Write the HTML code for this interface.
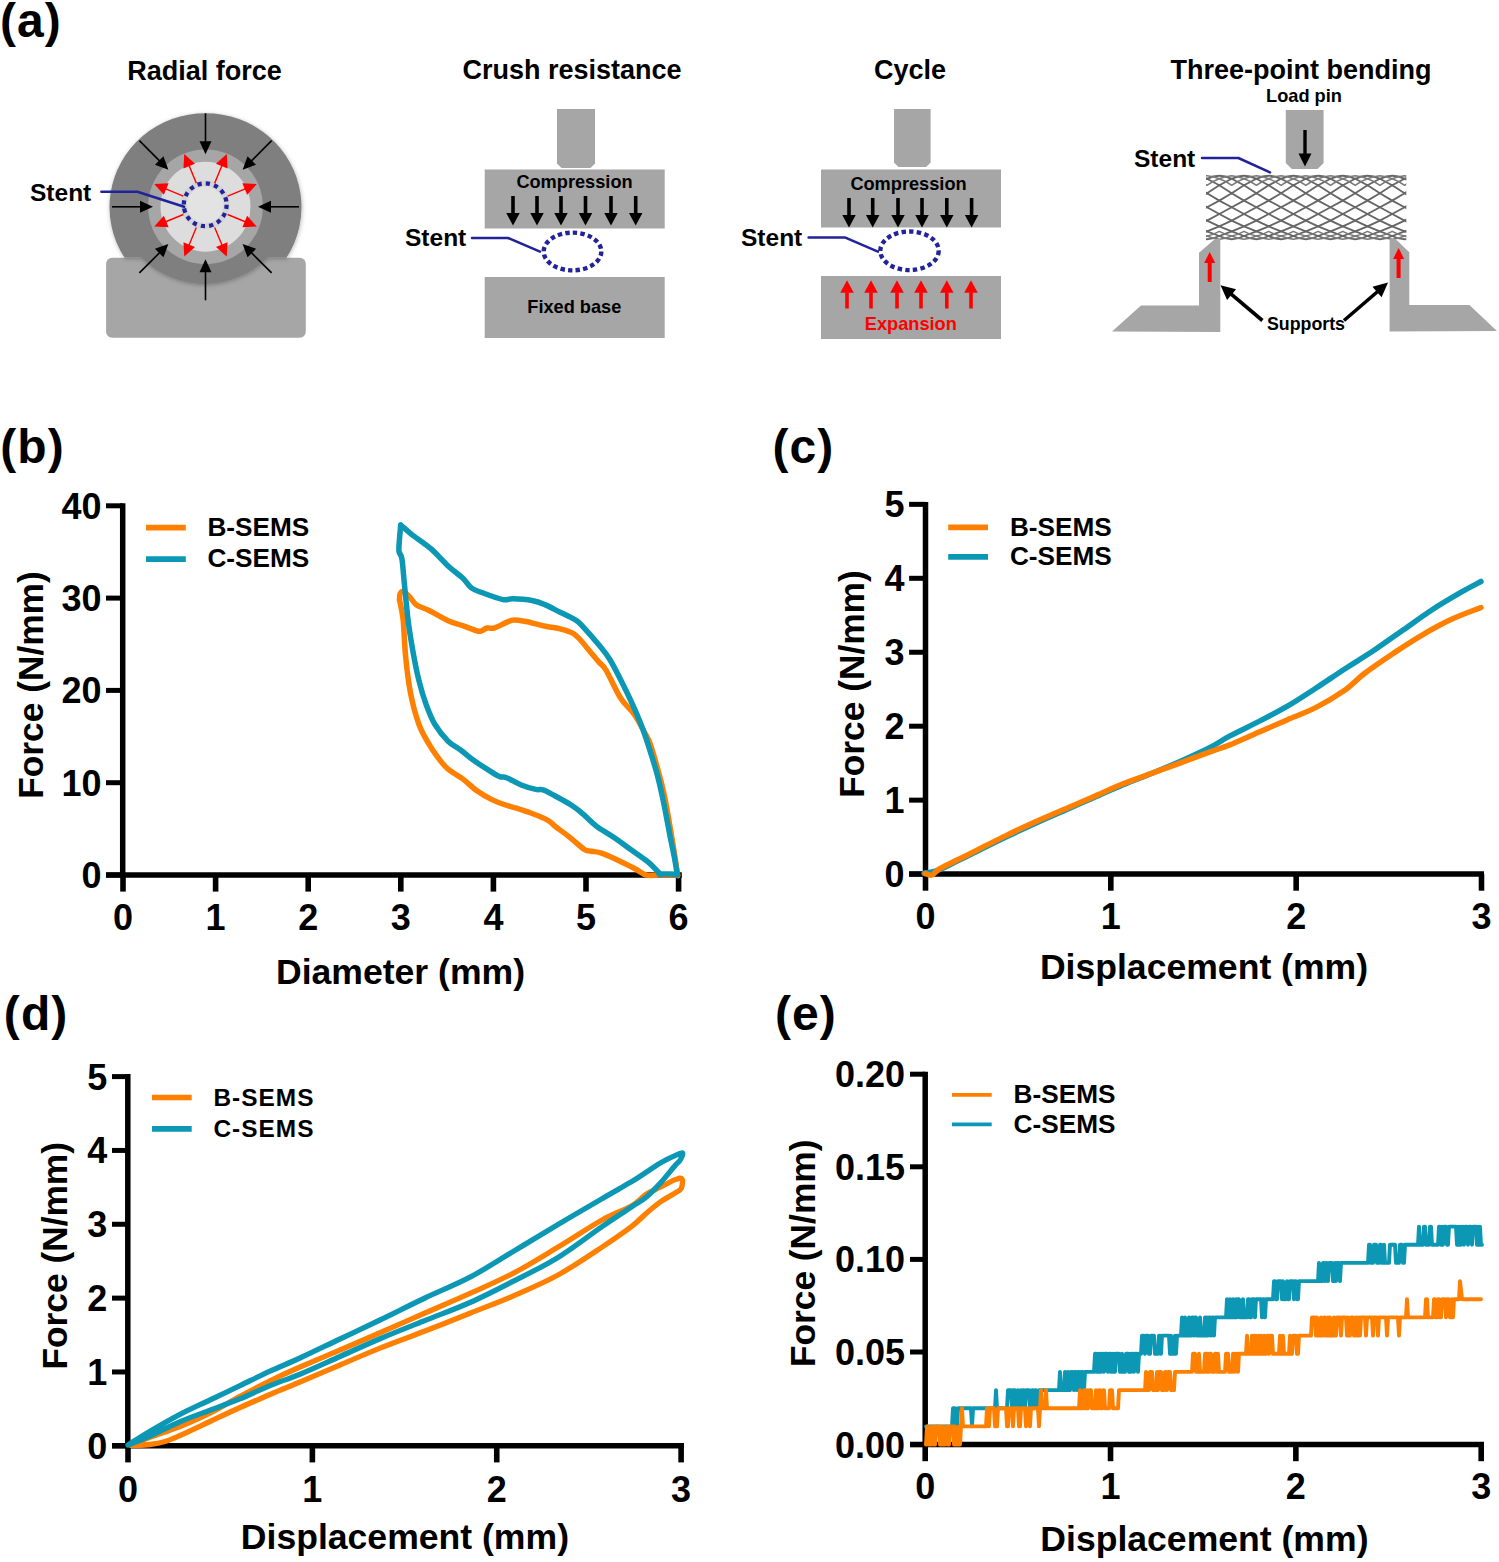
<!DOCTYPE html>
<html><head><meta charset="utf-8"><title>Figure</title>
<style>html,body{margin:0;padding:0;background:#fff;} svg{display:block;} text{font-family:'Liberation Sans', sans-serif;}</style>
</head><body>
<svg width="1499" height="1562" viewBox="0 0 1499 1562">
<rect width="1499" height="1562" fill="#fff"/>
<text x="-0.1" y="37" font-size="48" text-anchor="start" fill="#000" font-weight="bold" letter-spacing="1.1">(a)</text>
<text x="0.2" y="462.7" font-size="48" text-anchor="start" fill="#000" font-weight="bold" letter-spacing="1.1">(b)</text>
<text x="772.4" y="462.7" font-size="48" text-anchor="start" fill="#000" font-weight="bold" letter-spacing="1.1">(c)</text>
<text x="3.8" y="1029.7" font-size="48" text-anchor="start" fill="#000" font-weight="bold" letter-spacing="1.1">(d)</text>
<text x="774.9" y="1029.7" font-size="48" text-anchor="start" fill="#000" font-weight="bold" letter-spacing="1.1">(e)</text>
<text x="204.5" y="79.5" font-size="27" text-anchor="middle" fill="#000" font-weight="bold" >Radial force</text>
<rect x="106.1" y="257.8" width="199.7" height="79.9" rx="6" fill="#A6A6A6"/>
<filter id="sh" x="-20%" y="-20%" width="140%" height="140%"><feDropShadow dx="0.5" dy="1" stdDeviation="2.2" flood-color="#000" flood-opacity="0.28"/></filter>
<path filter="url(#sh)" d="M 141.5,257.8 L 124.6,257.8 A 96,94 0 1 1 286.4,257.8 L 267.4,257.8 A 89,89 0 0 1 141.5,257.8 Z" fill="#7F7F7F"/>
<circle cx="205.5" cy="206.8" r="57.4" fill="#A6A6A6"/>
<circle cx="205.5" cy="206.8" r="45" fill="#DDDDDD"/>
<circle cx="205.2" cy="204.8" r="21.5" fill="none" stroke="#CFCFCF" stroke-width="6" opacity="0.6"/>
<circle cx="205.2" cy="204.8" r="18" fill="#E3E3E3"/>
<line x1="205.50" y1="113.30" x2="205.50" y2="141.80" stroke="#000" stroke-width="1.6"/>
<polygon points="205.50,154.30 199.50,141.30 211.50,141.30" fill="#000"/>
<line x1="271.61" y1="140.69" x2="251.46" y2="160.84" stroke="#000" stroke-width="1.6"/>
<polygon points="242.62,169.68 247.57,156.24 256.06,164.73" fill="#000"/>
<line x1="299.00" y1="206.80" x2="270.50" y2="206.80" stroke="#000" stroke-width="1.6"/>
<polygon points="258.00,206.80 271.00,200.80 271.00,212.80" fill="#000"/>
<line x1="271.61" y1="272.91" x2="251.46" y2="252.76" stroke="#000" stroke-width="1.6"/>
<polygon points="242.62,243.92 256.06,248.87 247.57,257.36" fill="#000"/>
<line x1="205.50" y1="300.30" x2="205.50" y2="271.80" stroke="#000" stroke-width="1.6"/>
<polygon points="205.50,259.30 211.50,272.30 199.50,272.30" fill="#000"/>
<line x1="139.39" y1="272.91" x2="159.54" y2="252.76" stroke="#000" stroke-width="1.6"/>
<polygon points="168.38,243.92 163.43,257.36 154.94,248.87" fill="#000"/>
<line x1="112.00" y1="206.80" x2="140.50" y2="206.80" stroke="#000" stroke-width="1.6"/>
<polygon points="153.00,206.80 140.00,212.80 140.00,200.80" fill="#000"/>
<line x1="139.39" y1="140.69" x2="159.54" y2="160.84" stroke="#000" stroke-width="1.6"/>
<polygon points="168.38,169.68 154.94,164.73 163.43,156.24" fill="#000"/>
<line x1="214.68" y1="183.13" x2="221.96" y2="165.57" stroke="#FF0000" stroke-width="1.4"/>
<polygon points="226.74,154.02 227.54,168.43 215.99,163.64" fill="#FF0000"/>
<line x1="227.67" y1="196.12" x2="245.23" y2="188.84" stroke="#FF0000" stroke-width="1.4"/>
<polygon points="256.78,184.06 247.16,194.81 242.37,183.26" fill="#FF0000"/>
<line x1="227.67" y1="214.48" x2="245.23" y2="221.76" stroke="#FF0000" stroke-width="1.4"/>
<polygon points="256.78,226.54 242.37,227.34 247.16,215.79" fill="#FF0000"/>
<line x1="214.68" y1="227.47" x2="221.96" y2="245.03" stroke="#FF0000" stroke-width="1.4"/>
<polygon points="226.74,256.58 215.99,246.96 227.54,242.17" fill="#FF0000"/>
<line x1="196.32" y1="227.47" x2="189.04" y2="245.03" stroke="#FF0000" stroke-width="1.4"/>
<polygon points="184.26,256.58 183.46,242.17 195.01,246.96" fill="#FF0000"/>
<line x1="183.33" y1="214.48" x2="165.77" y2="221.76" stroke="#FF0000" stroke-width="1.4"/>
<polygon points="154.22,226.54 163.84,215.79 168.63,227.34" fill="#FF0000"/>
<line x1="183.33" y1="196.12" x2="165.77" y2="188.84" stroke="#FF0000" stroke-width="1.4"/>
<polygon points="154.22,184.06 168.63,183.26 163.84,194.81" fill="#FF0000"/>
<line x1="196.32" y1="183.13" x2="189.04" y2="165.57" stroke="#FF0000" stroke-width="1.4"/>
<polygon points="184.26,154.02 195.01,163.64 183.46,168.43" fill="#FF0000"/>
<circle cx="205.2" cy="204.8" r="21.4" fill="none" stroke="#22229A" stroke-width="4.2" stroke-dasharray="4.2 4.2"/>
<text x="30" y="200.6" font-size="24.5" text-anchor="start" fill="#000" font-weight="bold" >Stent</text>
<polyline points="101.4,191.8 137.4,191.8 184.1,206.8" fill="none" stroke="#22229A" stroke-width="2.5" stroke-linejoin="round" stroke-linecap="round" />
<text x="572" y="79" font-size="27" text-anchor="middle" fill="#000" font-weight="bold" >Crush resistance</text>
<polygon points="557,109 595,109 595,163.5 590.5,168 561.5,168 557,163.5" fill="#A6A6A6"/>
<rect x="484.7" y="169.5" width="180" height="59" fill="#A6A6A6"/>
<text x="574.5" y="187.5" font-size="18.2" text-anchor="middle" fill="#000" font-weight="bold" >Compression</text>
<line x1="513.00" y1="196.00" x2="513.00" y2="213.50" stroke="#000" stroke-width="3.6"/>
<polygon points="513.00,225.50 506.25,213.00 519.75,213.00" fill="#000"/>
<line x1="537.00" y1="196.00" x2="537.00" y2="213.50" stroke="#000" stroke-width="3.6"/>
<polygon points="537.00,225.50 530.25,213.00 543.75,213.00" fill="#000"/>
<line x1="561.00" y1="196.00" x2="561.00" y2="213.50" stroke="#000" stroke-width="3.6"/>
<polygon points="561.00,225.50 554.25,213.00 567.75,213.00" fill="#000"/>
<line x1="585.50" y1="196.00" x2="585.50" y2="213.50" stroke="#000" stroke-width="3.6"/>
<polygon points="585.50,225.50 578.75,213.00 592.25,213.00" fill="#000"/>
<line x1="611.00" y1="196.00" x2="611.00" y2="213.50" stroke="#000" stroke-width="3.6"/>
<polygon points="611.00,225.50 604.25,213.00 617.75,213.00" fill="#000"/>
<line x1="635.70" y1="196.00" x2="635.70" y2="213.50" stroke="#000" stroke-width="3.6"/>
<polygon points="635.70,225.50 628.95,213.00 642.45,213.00" fill="#000"/>
<ellipse cx="572.5" cy="251.5" rx="28.8" ry="18.9" fill="#FFFFFF" stroke="#22229A" stroke-width="4.4" stroke-dasharray="4.4 3.17"/>
<text x="405" y="246" font-size="24.5" text-anchor="start" fill="#000" font-weight="bold" >Stent</text>
<polyline points="472.0,238.0 508.0,238.0 540.0,251.6" fill="none" stroke="#22229A" stroke-width="2.5" stroke-linejoin="round" stroke-linecap="round" />
<rect x="484.7" y="277" width="180" height="61" fill="#A6A6A6"/>
<text x="574.3" y="313" font-size="18.2" text-anchor="middle" fill="#000" font-weight="bold" >Fixed base</text>
<text x="910" y="79" font-size="27" text-anchor="middle" fill="#000" font-weight="bold" >Cycle</text>
<polygon points="894,109 930.6,109 930.6,162.5 926.1,167 898.5,167 894,162.5" fill="#A6A6A6"/>
<rect x="821" y="169.5" width="180" height="58" fill="#A6A6A6"/>
<text x="908.5" y="189.5" font-size="18.2" text-anchor="middle" fill="#000" font-weight="bold" >Compression</text>
<line x1="849.00" y1="198.00" x2="849.00" y2="215.50" stroke="#000" stroke-width="3.6"/>
<polygon points="849.00,227.50 842.25,215.00 855.75,215.00" fill="#000"/>
<line x1="872.70" y1="198.00" x2="872.70" y2="215.50" stroke="#000" stroke-width="3.6"/>
<polygon points="872.70,227.50 865.95,215.00 879.45,215.00" fill="#000"/>
<line x1="898.00" y1="198.00" x2="898.00" y2="215.50" stroke="#000" stroke-width="3.6"/>
<polygon points="898.00,227.50 891.25,215.00 904.75,215.00" fill="#000"/>
<line x1="922.00" y1="198.00" x2="922.00" y2="215.50" stroke="#000" stroke-width="3.6"/>
<polygon points="922.00,227.50 915.25,215.00 928.75,215.00" fill="#000"/>
<line x1="946.80" y1="198.00" x2="946.80" y2="215.50" stroke="#000" stroke-width="3.6"/>
<polygon points="946.80,227.50 940.05,215.00 953.55,215.00" fill="#000"/>
<line x1="971.60" y1="198.00" x2="971.60" y2="215.50" stroke="#000" stroke-width="3.6"/>
<polygon points="971.60,227.50 964.85,215.00 978.35,215.00" fill="#000"/>
<ellipse cx="909.5" cy="250.8" rx="29.2" ry="19.3" fill="#FFFFFF" stroke="#22229A" stroke-width="4.4" stroke-dasharray="4.4 3.25"/>
<text x="741" y="246" font-size="24.5" text-anchor="start" fill="#000" font-weight="bold" >Stent</text>
<polyline points="808.6,237.4 844.8,237.4 877.9,251.7" fill="none" stroke="#22229A" stroke-width="2.5" stroke-linejoin="round" stroke-linecap="round" />
<rect x="821" y="276" width="180" height="63" fill="#A6A6A6"/>
<line x1="847.00" y1="308.50" x2="847.00" y2="292.30" stroke="#FF0000" stroke-width="3.6"/>
<polygon points="847.00,280.30 853.75,292.80 840.25,292.80" fill="#FF0000"/>
<line x1="871.00" y1="308.50" x2="871.00" y2="292.30" stroke="#FF0000" stroke-width="3.6"/>
<polygon points="871.00,280.30 877.75,292.80 864.25,292.80" fill="#FF0000"/>
<line x1="897.00" y1="308.50" x2="897.00" y2="292.30" stroke="#FF0000" stroke-width="3.6"/>
<polygon points="897.00,280.30 903.75,292.80 890.25,292.80" fill="#FF0000"/>
<line x1="921.00" y1="308.50" x2="921.00" y2="292.30" stroke="#FF0000" stroke-width="3.6"/>
<polygon points="921.00,280.30 927.75,292.80 914.25,292.80" fill="#FF0000"/>
<line x1="946.80" y1="308.50" x2="946.80" y2="292.30" stroke="#FF0000" stroke-width="3.6"/>
<polygon points="946.80,280.30 953.55,292.80 940.05,292.80" fill="#FF0000"/>
<line x1="971.00" y1="308.50" x2="971.00" y2="292.30" stroke="#FF0000" stroke-width="3.6"/>
<polygon points="971.00,280.30 977.75,292.80 964.25,292.80" fill="#FF0000"/>
<text x="910.8" y="330" font-size="18.2" text-anchor="middle" fill="#FF0000" font-weight="bold" >Expansion</text>
<text x="1301" y="79" font-size="27" text-anchor="middle" fill="#000" font-weight="bold" >Three-point bending</text>
<text x="1304" y="102" font-size="18.2" text-anchor="middle" fill="#000" font-weight="bold" >Load pin</text>
<polygon points="1285.8,110 1323.6,110 1323.6,163 1317.6,169 1291.8,169 1285.8,163" fill="#A6A6A6"/>
<line x1="1305.00" y1="130.00" x2="1305.00" y2="154.00" stroke="#000" stroke-width="3.4"/>
<polygon points="1305.00,166.50 1298.50,153.50 1311.50,153.50" fill="#000"/>
<text x="1134" y="167" font-size="24.5" text-anchor="start" fill="#000" font-weight="bold" >Stent</text>
<polyline points="1202.0,158.0 1238.4,158.0 1270.0,172.4" fill="none" stroke="#22229A" stroke-width="2.5" stroke-linejoin="round" stroke-linecap="round" />
<clipPath id="meshclip"><rect x="1206" y="170" width="200.3" height="75"/></clipPath>
<g clip-path="url(#meshclip)" fill="none" stroke="#666666" stroke-width="1.85" stroke-linejoin="round">
<path d="M 1182.3,178.8 Q 1188.5,175.7 1194.6,175.7 Q 1200.8,175.7 1207.0,178.8 Q 1213.2,175.7 1219.3,175.7 Q 1225.5,175.7 1231.7,178.8 Q 1237.9,175.7 1244.0,175.7 Q 1250.2,175.7 1256.4,178.8 Q 1262.6,175.7 1268.7,175.7 Q 1274.9,175.7 1281.1,178.8 Q 1287.3,175.7 1293.4,175.7 Q 1299.6,175.7 1305.8,178.8 Q 1312.0,175.7 1318.1,175.7 Q 1324.3,175.7 1330.5,178.8 Q 1336.7,175.7 1342.8,175.7 Q 1349.0,175.7 1355.2,178.8 Q 1361.4,175.7 1367.5,175.7 Q 1373.7,175.7 1379.9,178.8 Q 1386.1,175.7 1392.2,175.7 Q 1398.4,175.7 1404.6,178.8 Q 1410.8,175.7 1416.9,175.7 Q 1423.1,175.7 1429.3,178.8 Q 1435.5,175.7 1441.6,175.7"/>
<path d="M 1194.6,178.8 Q 1200.8,176.1 1207.0,175.7 Q 1213.2,176.1 1219.3,178.8 Q 1225.5,176.1 1231.7,175.7 Q 1237.9,176.1 1244.0,178.8 Q 1250.2,176.1 1256.4,175.7 Q 1262.6,176.1 1268.7,178.8 Q 1274.9,176.1 1281.1,175.7 Q 1287.3,176.1 1293.4,178.8 Q 1299.6,176.1 1305.8,175.7 Q 1312.0,176.1 1318.1,178.8 Q 1324.3,176.1 1330.5,175.7 Q 1336.7,176.1 1342.8,178.8 Q 1349.0,176.1 1355.2,175.7 Q 1361.4,176.1 1367.5,178.8 Q 1373.7,176.1 1379.9,175.7 Q 1386.1,176.1 1392.2,178.8 Q 1398.4,176.1 1404.6,175.7 Q 1410.8,176.1 1416.9,178.8 Q 1423.1,176.1 1429.3,175.7 Q 1435.5,176.1 1441.6,178.8 Q 1447.8,176.1 1454.0,175.7" stroke-width="1.5" stroke="#7A7A7A"/>
<polyline points="1182.3,178.8 1194.6,185.3 1207.0,178.8 1219.3,185.3 1231.7,178.8 1244.0,185.3 1256.4,178.8 1268.7,185.3 1281.1,178.8 1293.4,185.3 1305.8,178.8 1318.1,185.3 1330.5,178.8 1342.8,185.3 1355.2,178.8 1367.5,185.3 1379.9,178.8 1392.2,185.3 1404.6,178.8 1416.9,185.3 1429.3,178.8 1441.6,185.3"/>
<path d="M 1194.6,178.8 Q 1200.8,180.9 1207.0,185.3 Q 1213.2,180.9 1219.3,178.8 Q 1225.5,180.9 1231.7,185.3 Q 1237.9,180.9 1244.0,178.8 Q 1250.2,180.9 1256.4,185.3 Q 1262.6,180.9 1268.7,178.8 Q 1274.9,180.9 1281.1,185.3 Q 1287.3,180.9 1293.4,178.8 Q 1299.6,180.9 1305.8,185.3 Q 1312.0,180.9 1318.1,178.8 Q 1324.3,180.9 1330.5,185.3 Q 1336.7,180.9 1342.8,178.8 Q 1349.0,180.9 1355.2,185.3 Q 1361.4,180.9 1367.5,178.8 Q 1373.7,180.9 1379.9,185.3 Q 1386.1,180.9 1392.2,178.8 Q 1398.4,180.9 1404.6,185.3 Q 1410.8,180.9 1416.9,178.8 Q 1423.1,180.9 1429.3,185.3 Q 1435.5,180.9 1441.6,178.8 Q 1447.8,180.9 1454.0,185.3" stroke-width="1.5" stroke="#7A7A7A"/>
<polyline points="1182.3,193.2 1194.6,185.3 1207.0,193.2 1219.3,185.3 1231.7,193.2 1244.0,185.3 1256.4,193.2 1268.7,185.3 1281.1,193.2 1293.4,185.3 1305.8,193.2 1318.1,185.3 1330.5,193.2 1342.8,185.3 1355.2,193.2 1367.5,185.3 1379.9,193.2 1392.2,185.3 1404.6,193.2 1416.9,185.3 1429.3,193.2 1441.6,185.3"/>
<polyline points="1182.3,193.2 1194.6,200.6 1207.0,193.2 1219.3,200.6 1231.7,193.2 1244.0,200.6 1256.4,193.2 1268.7,200.6 1281.1,193.2 1293.4,200.6 1305.8,193.2 1318.1,200.6 1330.5,193.2 1342.8,200.6 1355.2,193.2 1367.5,200.6 1379.9,193.2 1392.2,200.6 1404.6,193.2 1416.9,200.6 1429.3,193.2 1441.6,200.6"/>
<polyline points="1182.3,207.2 1194.6,200.6 1207.0,207.2 1219.3,200.6 1231.7,207.2 1244.0,200.6 1256.4,207.2 1268.7,200.6 1281.1,207.2 1293.4,200.6 1305.8,207.2 1318.1,200.6 1330.5,207.2 1342.8,200.6 1355.2,207.2 1367.5,200.6 1379.9,207.2 1392.2,200.6 1404.6,207.2 1416.9,200.6 1429.3,207.2 1441.6,200.6"/>
<polyline points="1182.3,207.2 1194.6,214.0 1207.0,207.2 1219.3,214.0 1231.7,207.2 1244.0,214.0 1256.4,207.2 1268.7,214.0 1281.1,207.2 1293.4,214.0 1305.8,207.2 1318.1,214.0 1330.5,207.2 1342.8,214.0 1355.2,207.2 1367.5,214.0 1379.9,207.2 1392.2,214.0 1404.6,207.2 1416.9,214.0 1429.3,207.2 1441.6,214.0"/>
<polyline points="1182.3,220.6 1194.6,214.0 1207.0,220.6 1219.3,214.0 1231.7,220.6 1244.0,214.0 1256.4,220.6 1268.7,214.0 1281.1,220.6 1293.4,214.0 1305.8,220.6 1318.1,214.0 1330.5,220.6 1342.8,214.0 1355.2,220.6 1367.5,214.0 1379.9,220.6 1392.2,214.0 1404.6,220.6 1416.9,214.0 1429.3,220.6 1441.6,214.0"/>
<polyline points="1182.3,220.6 1194.6,226.4 1207.0,220.6 1219.3,226.4 1231.7,220.6 1244.0,226.4 1256.4,220.6 1268.7,226.4 1281.1,220.6 1293.4,226.4 1305.8,220.6 1318.1,226.4 1330.5,220.6 1342.8,226.4 1355.2,220.6 1367.5,226.4 1379.9,220.6 1392.2,226.4 1404.6,220.6 1416.9,226.4 1429.3,220.6 1441.6,226.4"/>
<polyline points="1182.3,231.4 1194.6,226.4 1207.0,231.4 1219.3,226.4 1231.7,231.4 1244.0,226.4 1256.4,231.4 1268.7,226.4 1281.1,231.4 1293.4,226.4 1305.8,231.4 1318.1,226.4 1330.5,231.4 1342.8,226.4 1355.2,231.4 1367.5,226.4 1379.9,231.4 1392.2,226.4 1404.6,231.4 1416.9,226.4 1429.3,231.4 1441.6,226.4"/>
<polyline points="1182.3,231.4 1194.6,236.0 1207.0,231.4 1219.3,236.0 1231.7,231.4 1244.0,236.0 1256.4,231.4 1268.7,236.0 1281.1,231.4 1293.4,236.0 1305.8,231.4 1318.1,236.0 1330.5,231.4 1342.8,236.0 1355.2,231.4 1367.5,236.0 1379.9,231.4 1392.2,236.0 1404.6,231.4 1416.9,236.0 1429.3,231.4 1441.6,236.0"/>
<path d="M 1194.6,231.4 Q 1200.8,234.9 1207.0,236.0 Q 1213.2,234.9 1219.3,231.4 Q 1225.5,234.9 1231.7,236.0 Q 1237.9,234.9 1244.0,231.4 Q 1250.2,234.9 1256.4,236.0 Q 1262.6,234.9 1268.7,231.4 Q 1274.9,234.9 1281.1,236.0 Q 1287.3,234.9 1293.4,231.4 Q 1299.6,234.9 1305.8,236.0 Q 1312.0,234.9 1318.1,231.4 Q 1324.3,234.9 1330.5,236.0 Q 1336.7,234.9 1342.8,231.4 Q 1349.0,234.9 1355.2,236.0 Q 1361.4,234.9 1367.5,231.4 Q 1373.7,234.9 1379.9,236.0 Q 1386.1,234.9 1392.2,231.4 Q 1398.4,234.9 1404.6,236.0 Q 1410.8,234.9 1416.9,231.4 Q 1423.1,234.9 1429.3,236.0 Q 1435.5,234.9 1441.6,231.4 Q 1447.8,234.9 1454.0,236.0" stroke-width="1.5" stroke="#7A7A7A"/>
<path d="M 1182.3,239.2 Q 1188.5,239.2 1194.6,236.0 Q 1200.8,239.2 1207.0,239.2 Q 1213.2,239.2 1219.3,236.0 Q 1225.5,239.2 1231.7,239.2 Q 1237.9,239.2 1244.0,236.0 Q 1250.2,239.2 1256.4,239.2 Q 1262.6,239.2 1268.7,236.0 Q 1274.9,239.2 1281.1,239.2 Q 1287.3,239.2 1293.4,236.0 Q 1299.6,239.2 1305.8,239.2 Q 1312.0,239.2 1318.1,236.0 Q 1324.3,239.2 1330.5,239.2 Q 1336.7,239.2 1342.8,236.0 Q 1349.0,239.2 1355.2,239.2 Q 1361.4,239.2 1367.5,236.0 Q 1373.7,239.2 1379.9,239.2 Q 1386.1,239.2 1392.2,236.0 Q 1398.4,239.2 1404.6,239.2 Q 1410.8,239.2 1416.9,236.0 Q 1423.1,239.2 1429.3,239.2 Q 1435.5,239.2 1441.6,236.0"/>
<path d="M 1194.6,239.2 Q 1200.8,238.8 1207.0,236.0 Q 1213.2,238.8 1219.3,239.2 Q 1225.5,238.8 1231.7,236.0 Q 1237.9,238.8 1244.0,239.2 Q 1250.2,238.8 1256.4,236.0 Q 1262.6,238.8 1268.7,239.2 Q 1274.9,238.8 1281.1,236.0 Q 1287.3,238.8 1293.4,239.2 Q 1299.6,238.8 1305.8,236.0 Q 1312.0,238.8 1318.1,239.2 Q 1324.3,238.8 1330.5,236.0 Q 1336.7,238.8 1342.8,239.2 Q 1349.0,238.8 1355.2,236.0 Q 1361.4,238.8 1367.5,239.2 Q 1373.7,238.8 1379.9,236.0 Q 1386.1,238.8 1392.2,239.2 Q 1398.4,238.8 1404.6,236.0 Q 1410.8,238.8 1416.9,239.2 Q 1423.1,238.8 1429.3,236.0 Q 1435.5,238.8 1441.6,239.2 Q 1447.8,238.8 1454.0,236.0" stroke-width="1.5" stroke="#7A7A7A"/>
</g>
<polygon points="1112,331.6 1141,305.5 1199,305.5 1199,252.8 1215,239 1220.3,239 1220.3,332" fill="#A6A6A6"/>
<polygon points="1389.6,239 1395.5,239 1409.3,252.3 1409.3,305 1469.4,305 1497,331 1389.6,331.6" fill="#A6A6A6"/>
<line x1="1209.70" y1="282.00" x2="1209.70" y2="262.50" stroke="#FF0000" stroke-width="4"/>
<polygon points="1209.70,252.00 1215.20,263.00 1204.20,263.00" fill="#FF0000"/>
<line x1="1398.60" y1="278.00" x2="1398.60" y2="258.50" stroke="#FF0000" stroke-width="4"/>
<polygon points="1398.60,248.00 1404.10,259.00 1393.10,259.00" fill="#FF0000"/>
<text x="1306" y="330" font-size="17.8" text-anchor="middle" fill="#000" font-weight="bold" >Supports</text>
<line x1="1262.40" y1="320.50" x2="1231.21" y2="294.22" stroke="#000" stroke-width="3.6"/>
<polygon points="1220.50,285.20 1236.10,289.19 1227.08,299.90" fill="#000"/>
<line x1="1344.00" y1="320.50" x2="1377.39" y2="291.74" stroke="#000" stroke-width="3.6"/>
<polygon points="1388.00,282.60 1381.58,297.37 1372.45,286.76" fill="#000"/>
<line x1="122.7" y1="503.3" x2="122.7" y2="877.7" stroke="#000" stroke-width="5.5"/>
<line x1="106" y1="875" x2="681.8" y2="875" stroke="#000" stroke-width="5.5"/>
<line x1="106" y1="505.79999999999995" x2="122.7" y2="505.79999999999995" stroke="#000" stroke-width="5"/>
<text x="101.5" y="518.8" font-size="36" text-anchor="end" fill="#000" font-weight="bold" >40</text>
<line x1="106" y1="598.0999999999999" x2="122.7" y2="598.0999999999999" stroke="#000" stroke-width="5"/>
<text x="101.5" y="611.1" font-size="36" text-anchor="end" fill="#000" font-weight="bold" >30</text>
<line x1="106" y1="690.4" x2="122.7" y2="690.4" stroke="#000" stroke-width="5"/>
<text x="101.5" y="703.4" font-size="36" text-anchor="end" fill="#000" font-weight="bold" >20</text>
<line x1="106" y1="782.7" x2="122.7" y2="782.7" stroke="#000" stroke-width="5"/>
<text x="101.5" y="795.7" font-size="36" text-anchor="end" fill="#000" font-weight="bold" >10</text>
<line x1="106" y1="875.0" x2="122.7" y2="875.0" stroke="#000" stroke-width="5"/>
<text x="101.5" y="888.0" font-size="36" text-anchor="end" fill="#000" font-weight="bold" >0</text>
<line x1="123.0" y1="875" x2="123.0" y2="891.6" stroke="#000" stroke-width="5.6"/>
<text x="123.0" y="930" font-size="36" text-anchor="middle" fill="#000" font-weight="bold" >0</text>
<line x1="215.6" y1="875" x2="215.6" y2="891.6" stroke="#000" stroke-width="5.6"/>
<text x="215.6" y="930" font-size="36" text-anchor="middle" fill="#000" font-weight="bold" >1</text>
<line x1="308.2" y1="875" x2="308.2" y2="891.6" stroke="#000" stroke-width="5.6"/>
<text x="308.2" y="930" font-size="36" text-anchor="middle" fill="#000" font-weight="bold" >2</text>
<line x1="400.79999999999995" y1="875" x2="400.79999999999995" y2="891.6" stroke="#000" stroke-width="5.6"/>
<text x="400.79999999999995" y="930" font-size="36" text-anchor="middle" fill="#000" font-weight="bold" >3</text>
<line x1="493.4" y1="875" x2="493.4" y2="891.6" stroke="#000" stroke-width="5.6"/>
<text x="493.4" y="930" font-size="36" text-anchor="middle" fill="#000" font-weight="bold" >4</text>
<line x1="586.0" y1="875" x2="586.0" y2="891.6" stroke="#000" stroke-width="5.6"/>
<text x="586.0" y="930" font-size="36" text-anchor="middle" fill="#000" font-weight="bold" >5</text>
<line x1="678.5999999999999" y1="875" x2="678.5999999999999" y2="891.6" stroke="#000" stroke-width="5.6"/>
<text x="678.5999999999999" y="930" font-size="36" text-anchor="middle" fill="#000" font-weight="bold" >6</text>
<path d="M 399.5,600.0 C 399.6,599.0 399.4,595.4 400.0,594.0 C 400.6,592.6 401.6,591.1 403.1,591.5 C 404.6,591.9 407.0,594.2 409.2,596.4 C 411.4,598.6 413.2,602.6 416.5,604.9 C 419.8,607.2 423.4,607.7 428.7,610.3 C 434.0,612.9 442.4,618.2 448.1,620.7 C 453.8,623.2 457.8,623.9 462.7,625.6 C 467.6,627.3 474.1,630.2 477.3,631.0 C 480.6,631.8 480.6,631.0 482.2,630.5 C 483.8,630.0 485.1,628.4 487.1,628.0 C 489.1,627.6 491.1,628.9 494.4,628.0 C 497.6,627.1 503.4,623.7 506.6,622.4 C 509.9,621.1 510.7,620.1 513.9,620.0 C 517.1,619.9 522.4,620.9 526.0,621.5 C 529.6,622.1 532.5,623.1 535.8,623.9 C 539.0,624.7 541.5,625.5 545.5,626.3 C 549.5,627.1 555.6,627.7 560.1,628.8 C 564.6,629.9 569.0,631.2 572.3,632.9 C 575.5,634.6 576.4,635.5 579.6,639.0 C 582.8,642.5 588.5,649.8 591.7,653.6 C 594.9,657.5 596.6,659.3 599.0,662.1 C 601.4,664.9 602.6,664.5 606.3,670.6 C 609.9,676.7 616.2,691.3 620.9,698.6 C 625.6,705.9 630.2,708.5 634.3,714.4 C 638.4,720.3 642.7,729.0 645.3,733.9 C 647.9,738.8 648.1,737.9 650.1,743.6 C 652.1,749.3 655.0,759.1 657.4,768.0 C 659.8,776.9 662.3,785.5 664.7,797.2 C 667.1,809.0 669.9,825.9 672.0,838.5 C 674.1,851.1 676.5,867.3 677.4,873.1 C 678.3,878.9 677.4,873.1 677.4,873.1" fill="none" stroke="#FF8000" stroke-width="5.5" stroke-linejoin="round" stroke-linecap="round" />
<path d="M 399.5,600.0 C 400.1,603.2 402.1,610.2 403.1,619.5 C 404.1,628.8 404.4,643.8 405.6,656.0 C 406.8,668.2 408.2,681.1 410.4,692.5 C 412.6,703.9 415.8,715.7 418.9,724.2 C 421.9,732.7 425.4,737.9 428.7,743.6 C 431.9,749.3 435.2,753.9 438.4,758.2 C 441.6,762.5 444.1,765.8 448.1,769.2 C 452.2,772.7 457.8,775.2 462.7,778.9 C 467.6,782.5 472.4,787.6 477.3,791.1 C 482.2,794.6 487.4,797.4 491.9,799.6 C 496.4,801.8 500.0,803.1 504.1,804.5 C 508.2,805.9 511.8,806.7 516.3,808.1 C 520.8,809.5 525.6,811.0 530.9,813.0 C 536.2,815.0 543.8,818.1 547.9,820.3 C 552.0,822.5 551.6,823.6 555.2,826.4 C 558.9,829.2 564.9,833.4 569.8,837.3 C 574.7,841.1 580.8,847.2 584.4,849.5 C 588.0,851.8 588.9,850.6 591.7,851.2 C 594.6,851.8 597.0,851.6 601.5,853.1 C 606.0,854.6 612.8,857.9 618.5,860.5 C 624.2,863.1 630.8,866.6 635.5,869.0 C 640.2,871.4 642.4,874.1 646.5,875.1 C 650.6,876.1 654.8,875.1 659.9,875.1 C 665.0,875.1 674.5,875.1 677.4,875.1" fill="none" stroke="#FF8000" stroke-width="5.5" stroke-linejoin="round" stroke-linecap="round" />
<path d="M 400.7,525.1 C 402.5,526.6 406.5,530.3 411.6,534.3 C 416.7,538.3 425.0,543.6 431.1,548.9 C 437.2,554.2 442.8,561.1 448.1,566.0 C 453.4,570.9 458.8,574.5 462.7,578.1 C 466.6,581.8 468.1,585.5 471.3,587.9 C 474.6,590.3 476.9,590.8 482.2,592.7 C 487.5,594.7 497.8,598.6 502.9,599.6 C 508.0,600.6 507.7,598.6 512.6,598.8 C 517.5,598.9 526.6,599.5 532.1,600.5 C 537.6,601.5 540.8,602.9 545.5,604.9 C 550.2,606.9 555.2,609.8 560.1,612.2 C 565.0,614.6 571.1,617.3 574.7,619.5 C 578.4,621.7 578.0,621.3 582.0,625.6 C 586.0,629.9 594.3,639.4 599.0,645.1 C 603.7,650.8 605.9,653.0 610.0,659.7 C 614.1,666.4 619.4,677.1 623.4,685.2 C 627.4,693.3 631.1,701.0 634.3,708.3 C 637.5,715.6 640.2,721.9 642.8,729.0 C 645.4,736.1 647.7,743.2 650.1,750.9 C 652.5,758.6 655.2,766.8 657.4,775.3 C 659.6,783.8 661.5,792.3 663.5,802.0 C 665.5,811.7 667.8,824.4 669.6,833.7 C 671.4,843.0 673.2,851.1 674.5,858.0 C 675.8,864.9 676.9,872.2 677.4,875.1" fill="none" stroke="#0C97B4" stroke-width="5.5" stroke-linejoin="round" stroke-linecap="round" />
<path d="M 400.7,525.1 C 400.5,527.5 399.8,534.8 399.5,539.2 C 399.2,543.6 398.6,548.1 399.0,551.4 C 399.4,554.6 401.0,553.4 401.9,558.7 C 402.8,564.0 403.3,572.9 404.3,583.0 C 405.3,593.1 406.6,608.1 408.0,619.5 C 409.4,630.9 411.1,641.1 412.9,651.2 C 414.7,661.4 416.7,671.5 418.9,680.4 C 421.1,689.3 423.5,697.4 426.2,704.7 C 428.9,712.0 431.1,718.1 434.8,724.2 C 438.5,730.3 443.9,737.0 448.1,741.2 C 452.4,745.5 456.2,746.7 460.3,749.7 C 464.4,752.8 468.0,756.2 472.5,759.5 C 477.0,762.8 482.6,766.4 487.1,769.2 C 491.6,772.0 496.1,775.1 499.3,776.5 C 502.6,777.9 503.0,776.3 506.6,777.7 C 510.2,779.1 516.3,783.0 521.2,785.0 C 526.1,787.0 532.1,788.6 535.8,789.4 C 539.4,790.2 539.9,788.8 543.1,789.9 C 546.3,791.0 550.3,793.4 555.2,796.0 C 560.1,798.6 567.6,802.7 572.3,805.7 C 577.0,808.7 579.2,810.8 583.2,814.2 C 587.2,817.7 591.5,822.5 596.6,826.4 C 601.7,830.2 607.9,833.4 613.6,837.3 C 619.3,841.1 625.0,845.4 630.7,849.5 C 636.4,853.6 642.8,857.7 647.7,861.7 C 652.6,865.8 657.9,871.8 659.9,873.8 C 661.9,875.8 657.0,873.7 659.9,873.8 C 662.8,873.9 674.5,874.2 677.4,874.3" fill="none" stroke="#0C97B4" stroke-width="5.5" stroke-linejoin="round" stroke-linecap="round" />
<line x1="146" y1="527.6" x2="185.8" y2="527.6" stroke="#FF8000" stroke-width="5.7"/>
<line x1="146" y1="559.1" x2="185.8" y2="559.1" stroke="#0C97B4" stroke-width="5.7"/>
<text x="207.4" y="536.2" font-size="26.2" text-anchor="start" fill="#000" font-weight="bold" >B-SEMS</text>
<text x="207.4" y="567.2" font-size="26.2" text-anchor="start" fill="#000" font-weight="bold" >C-SEMS</text>
<text x="400.5" y="983.9" font-size="35.6" text-anchor="middle" fill="#000" font-weight="bold" >Diameter (mm)</text>
<text x="42.5" y="685" font-size="35.3" text-anchor="middle" fill="#000" font-weight="bold" transform="rotate(-90 42.5 685)">Force (N/mm)</text>
<line x1="925.5" y1="502" x2="925.5" y2="876.8000000000001" stroke="#000" stroke-width="5.5"/>
<line x1="909.1" y1="874.1" x2="1484" y2="874.1" stroke="#000" stroke-width="5.5"/>
<line x1="909.1" y1="504.35" x2="925.5" y2="504.35" stroke="#000" stroke-width="5"/>
<text x="904.5" y="517.4" font-size="36" text-anchor="end" fill="#000" font-weight="bold" >5</text>
<line x1="909.1" y1="578.3" x2="925.5" y2="578.3" stroke="#000" stroke-width="5"/>
<text x="904.5" y="591.3" font-size="36" text-anchor="end" fill="#000" font-weight="bold" >4</text>
<line x1="909.1" y1="652.25" x2="925.5" y2="652.25" stroke="#000" stroke-width="5"/>
<text x="904.5" y="665.2" font-size="36" text-anchor="end" fill="#000" font-weight="bold" >3</text>
<line x1="909.1" y1="726.2" x2="925.5" y2="726.2" stroke="#000" stroke-width="5"/>
<text x="904.5" y="739.2" font-size="36" text-anchor="end" fill="#000" font-weight="bold" >2</text>
<line x1="909.1" y1="800.15" x2="925.5" y2="800.15" stroke="#000" stroke-width="5"/>
<text x="904.5" y="813.1" font-size="36" text-anchor="end" fill="#000" font-weight="bold" >1</text>
<line x1="909.1" y1="874.1" x2="925.5" y2="874.1" stroke="#000" stroke-width="5"/>
<text x="904.5" y="887.1" font-size="36" text-anchor="end" fill="#000" font-weight="bold" >0</text>
<line x1="925.5" y1="874.1" x2="925.5" y2="890.7" stroke="#000" stroke-width="5.6"/>
<text x="925.5" y="928.8" font-size="36" text-anchor="middle" fill="#000" font-weight="bold" >0</text>
<line x1="1110.83" y1="874.1" x2="1110.83" y2="890.7" stroke="#000" stroke-width="5.6"/>
<text x="1110.83" y="928.8" font-size="36" text-anchor="middle" fill="#000" font-weight="bold" >1</text>
<line x1="1296.16" y1="874.1" x2="1296.16" y2="890.7" stroke="#000" stroke-width="5.6"/>
<text x="1296.16" y="928.8" font-size="36" text-anchor="middle" fill="#000" font-weight="bold" >2</text>
<line x1="1481.49" y1="874.1" x2="1481.49" y2="890.7" stroke="#000" stroke-width="5.6"/>
<text x="1481.49" y="928.8" font-size="36" text-anchor="middle" fill="#000" font-weight="bold" >3</text>
<path d="M 924.0,873.3 C 926.5,872.7 933.5,872.0 939.3,869.8 C 945.1,867.6 952.2,863.5 958.7,860.3 C 965.2,857.1 970.0,854.8 978.0,850.8 C 986.0,846.8 997.3,841.1 1007.0,836.5 C 1016.7,831.9 1026.4,827.4 1036.1,823.0 C 1045.8,818.6 1055.4,814.5 1065.1,810.2 C 1074.8,806.0 1084.4,801.7 1094.1,797.5 C 1103.8,793.3 1113.4,788.8 1123.1,784.8 C 1132.8,780.8 1142.5,777.2 1152.2,773.2 C 1161.9,769.2 1171.6,765.3 1181.2,761.0 C 1190.8,756.7 1202.0,751.6 1210.0,747.5 C 1218.0,743.4 1221.0,740.7 1229.0,736.4 C 1237.0,732.1 1248.3,726.9 1258.0,721.9 C 1267.7,716.9 1277.3,712.0 1287.0,706.4 C 1296.7,700.8 1306.4,694.3 1316.1,688.0 C 1325.8,681.7 1335.4,675.0 1345.1,668.7 C 1354.8,662.4 1364.4,656.8 1374.1,650.3 C 1383.8,643.8 1393.4,636.8 1403.1,630.0 C 1412.8,623.2 1422.5,616.0 1432.2,609.7 C 1441.9,603.4 1453.1,596.9 1461.2,592.2 C 1469.3,587.5 1477.7,583.3 1481.0,581.5" fill="none" stroke="#0C97B4" stroke-width="5.5" stroke-linejoin="round" stroke-linecap="round" />
<path d="M 925.0,873.5 C 926.2,873.8 929.6,875.8 932.0,875.0 C 934.4,874.2 934.8,871.6 939.3,869.0 C 943.8,866.4 952.2,862.5 958.7,859.3 C 965.2,856.1 970.0,853.6 978.0,849.6 C 986.0,845.6 997.3,839.8 1007.0,835.1 C 1016.7,830.4 1026.4,826.0 1036.1,821.6 C 1045.8,817.2 1055.4,813.2 1065.1,809.0 C 1074.8,804.8 1084.4,800.6 1094.1,796.4 C 1103.8,792.2 1113.4,787.7 1123.1,783.8 C 1132.8,779.9 1142.5,776.7 1152.2,773.2 C 1161.9,769.7 1171.6,766.2 1181.2,762.6 C 1190.8,759.0 1202.0,754.8 1210.0,751.9 C 1218.0,749.0 1221.0,748.3 1229.0,745.1 C 1237.0,741.9 1248.3,736.7 1258.0,732.5 C 1267.7,728.3 1277.3,724.1 1287.0,719.9 C 1296.7,715.7 1306.4,712.4 1316.1,707.4 C 1325.8,702.4 1337.0,695.6 1345.1,690.0 C 1353.1,684.4 1356.3,679.6 1364.4,673.5 C 1372.5,667.4 1383.8,659.7 1393.5,653.2 C 1403.2,646.8 1412.8,640.4 1422.5,634.8 C 1432.2,629.1 1441.8,623.8 1451.5,619.3 C 1461.2,614.8 1476.1,609.5 1481.0,607.5" fill="none" stroke="#FF8000" stroke-width="5.5" stroke-linejoin="round" stroke-linecap="round" />
<line x1="948.2" y1="527.4" x2="988" y2="527.4" stroke="#FF8000" stroke-width="5.7"/>
<line x1="948.2" y1="556.9" x2="988" y2="556.9" stroke="#0C97B4" stroke-width="5.7"/>
<text x="1009.9" y="536.0" font-size="26.2" text-anchor="start" fill="#000" font-weight="bold" >B-SEMS</text>
<text x="1009.9" y="565.0" font-size="26.2" text-anchor="start" fill="#000" font-weight="bold" >C-SEMS</text>
<text x="1204" y="978.7" font-size="35.6" text-anchor="middle" fill="#000" font-weight="bold" >Displacement (mm)</text>
<text x="864" y="684" font-size="35.3" text-anchor="middle" fill="#000" font-weight="bold" transform="rotate(-90 864 684)">Force (N/mm)</text>
<line x1="127.8" y1="1074" x2="127.8" y2="1448.5" stroke="#000" stroke-width="5.5"/>
<line x1="112" y1="1445.8" x2="684" y2="1445.8" stroke="#000" stroke-width="5.5"/>
<line x1="112" y1="1076.6" x2="127.8" y2="1076.6" stroke="#000" stroke-width="5"/>
<text x="107.2" y="1089.6" font-size="36" text-anchor="end" fill="#000" font-weight="bold" >5</text>
<line x1="112" y1="1150.44" x2="127.8" y2="1150.44" stroke="#000" stroke-width="5"/>
<text x="107.2" y="1163.4" font-size="36" text-anchor="end" fill="#000" font-weight="bold" >4</text>
<line x1="112" y1="1224.28" x2="127.8" y2="1224.28" stroke="#000" stroke-width="5"/>
<text x="107.2" y="1237.3" font-size="36" text-anchor="end" fill="#000" font-weight="bold" >3</text>
<line x1="112" y1="1298.12" x2="127.8" y2="1298.12" stroke="#000" stroke-width="5"/>
<text x="107.2" y="1311.1" font-size="36" text-anchor="end" fill="#000" font-weight="bold" >2</text>
<line x1="112" y1="1371.96" x2="127.8" y2="1371.96" stroke="#000" stroke-width="5"/>
<text x="107.2" y="1385.0" font-size="36" text-anchor="end" fill="#000" font-weight="bold" >1</text>
<line x1="112" y1="1445.8" x2="127.8" y2="1445.8" stroke="#000" stroke-width="5"/>
<text x="107.2" y="1458.8" font-size="36" text-anchor="end" fill="#000" font-weight="bold" >0</text>
<line x1="128.0" y1="1445.8" x2="128.0" y2="1462.3999999999999" stroke="#000" stroke-width="5.6"/>
<text x="128.0" y="1501.5" font-size="36" text-anchor="middle" fill="#000" font-weight="bold" >0</text>
<line x1="312.37" y1="1445.8" x2="312.37" y2="1462.3999999999999" stroke="#000" stroke-width="5.6"/>
<text x="312.37" y="1501.5" font-size="36" text-anchor="middle" fill="#000" font-weight="bold" >1</text>
<line x1="496.74" y1="1445.8" x2="496.74" y2="1462.3999999999999" stroke="#000" stroke-width="5.6"/>
<text x="496.74" y="1501.5" font-size="36" text-anchor="middle" fill="#000" font-weight="bold" >2</text>
<line x1="681.11" y1="1445.8" x2="681.11" y2="1462.3999999999999" stroke="#000" stroke-width="5.6"/>
<text x="681.11" y="1501.5" font-size="36" text-anchor="middle" fill="#000" font-weight="bold" >3</text>
<path d="M 131.0,1445.0 C 134.2,1443.7 141.8,1440.4 150.0,1437.3 C 158.2,1434.2 170.0,1430.5 180.0,1426.5 C 190.0,1422.5 200.0,1418.2 210.0,1413.2 C 220.0,1408.2 230.0,1401.8 240.0,1396.4 C 250.0,1391.0 260.0,1385.7 270.0,1380.8 C 280.0,1375.9 288.3,1372.1 300.0,1367.0 C 311.7,1361.9 326.7,1355.7 340.0,1350.0 C 353.3,1344.3 365.8,1338.9 380.0,1332.7 C 394.2,1326.5 410.0,1319.5 425.0,1313.0 C 440.0,1306.5 455.2,1300.1 470.0,1293.4 C 484.8,1286.7 499.3,1280.5 514.0,1272.8 C 528.7,1265.1 543.3,1255.9 558.0,1247.1 C 572.7,1238.3 589.8,1226.8 602.0,1220.0 C 614.2,1213.2 624.0,1210.3 631.4,1206.0 C 638.8,1201.7 641.2,1197.5 646.1,1194.3 C 651.0,1191.1 655.9,1189.5 660.8,1187.0 C 665.7,1184.5 672.0,1180.9 675.5,1179.6 C 679.0,1178.2 681.0,1177.4 682.0,1178.9 C 683.0,1180.4 682.4,1186.1 681.3,1188.4 C 680.2,1190.7 678.9,1190.6 675.5,1192.8 C 672.1,1195.0 665.7,1198.2 660.8,1201.6 C 655.9,1205.0 651.0,1209.2 646.1,1213.4 C 641.2,1217.6 638.8,1221.0 631.4,1226.6 C 624.0,1232.2 614.2,1239.0 602.0,1247.1 C 589.8,1255.2 572.7,1266.9 558.0,1275.0 C 543.3,1283.1 528.7,1289.2 514.0,1295.6 C 499.3,1302.0 484.8,1307.3 470.0,1313.2 C 455.2,1319.1 440.0,1325.2 425.0,1331.0 C 410.0,1336.8 394.2,1342.4 380.0,1348.1 C 365.8,1353.8 353.3,1359.3 340.0,1365.0 C 326.7,1370.7 311.7,1377.1 300.0,1382.0 C 288.3,1386.9 280.0,1390.2 270.0,1394.5 C 260.0,1398.8 250.0,1403.0 240.0,1407.5 C 230.0,1412.0 220.0,1416.8 210.0,1421.5 C 200.0,1426.2 187.5,1432.2 180.0,1435.5 C 172.5,1438.8 170.0,1440.0 165.0,1441.5 C 160.0,1443.0 155.7,1443.8 150.0,1444.5 C 144.3,1445.2 134.2,1445.3 131.0,1445.5" fill="none" stroke="#FF8000" stroke-width="5.3" stroke-linejoin="round" stroke-linecap="round" />
<path d="M 128.0,1445.0 C 131.7,1442.7 141.3,1436.4 150.0,1431.3 C 158.7,1426.2 170.0,1419.6 180.0,1414.4 C 190.0,1409.2 200.0,1404.8 210.0,1400.0 C 220.0,1395.2 230.0,1390.4 240.0,1385.6 C 250.0,1380.8 260.0,1375.8 270.0,1371.2 C 280.0,1366.6 288.3,1363.4 300.0,1358.0 C 311.7,1352.6 326.7,1345.3 340.0,1339.0 C 353.3,1332.7 365.8,1326.8 380.0,1320.0 C 394.2,1313.2 410.0,1305.1 425.0,1298.0 C 440.0,1290.9 455.2,1285.0 470.0,1277.2 C 484.8,1269.4 499.3,1259.8 514.0,1251.0 C 528.7,1242.2 543.3,1233.2 558.0,1224.5 C 572.7,1215.8 589.8,1205.8 602.0,1198.7 C 614.2,1191.6 624.0,1186.2 631.4,1181.8 C 638.8,1177.4 641.2,1175.5 646.1,1172.3 C 651.0,1169.1 655.9,1165.5 660.8,1162.7 C 665.7,1159.9 671.8,1157.0 675.5,1155.4 C 679.2,1153.8 682.1,1152.4 682.8,1153.2 C 683.5,1154.0 681.1,1158.5 679.9,1160.5 C 678.7,1162.5 678.7,1161.3 675.5,1165.0 C 672.3,1168.7 665.7,1177.2 660.8,1182.6 C 655.9,1188.0 651.0,1193.1 646.1,1197.2 C 641.2,1201.3 638.8,1202.1 631.4,1207.0 C 624.0,1211.9 614.2,1218.2 602.0,1226.6 C 589.8,1235.0 572.7,1248.4 558.0,1257.4 C 543.3,1266.5 528.7,1273.4 514.0,1280.9 C 499.3,1288.4 484.8,1295.9 470.0,1302.5 C 455.2,1309.1 440.0,1314.5 425.0,1320.5 C 410.0,1326.5 394.2,1332.7 380.0,1338.7 C 365.8,1344.7 353.3,1350.6 340.0,1356.5 C 326.7,1362.4 311.7,1369.4 300.0,1374.2 C 288.3,1379.0 280.0,1381.5 270.0,1385.6 C 260.0,1389.7 250.0,1394.7 240.0,1398.8 C 230.0,1402.9 220.0,1406.4 210.0,1410.2 C 200.0,1414.0 190.0,1417.4 180.0,1421.7 C 170.0,1426.0 158.7,1432.1 150.0,1436.0 C 141.3,1439.9 131.7,1443.5 128.0,1445.0" fill="none" stroke="#0C97B4" stroke-width="5.3" stroke-linejoin="round" stroke-linecap="round" />
<line x1="152" y1="1097.5" x2="191.7" y2="1097.5" stroke="#FF8000" stroke-width="5.7"/>
<line x1="152" y1="1128.9" x2="191.7" y2="1128.9" stroke="#0C97B4" stroke-width="5.7"/>
<text x="213.4" y="1106.1" font-size="24.4" text-anchor="start" fill="#000" font-weight="bold" letter-spacing="1.05">B-SEMS</text>
<text x="213.4" y="1137.4" font-size="24.4" text-anchor="start" fill="#000" font-weight="bold" letter-spacing="1.05">C-SEMS</text>
<text x="404.9" y="1549.4" font-size="35.6" text-anchor="middle" fill="#000" font-weight="bold" >Displacement (mm)</text>
<text x="66.9" y="1255.8" font-size="35.3" text-anchor="middle" fill="#000" font-weight="bold" transform="rotate(-90 66.9 1255.8)">Force (N/mm)</text>
<line x1="925.2" y1="1071.7" x2="925.2" y2="1447.3" stroke="#000" stroke-width="5.5"/>
<line x1="910" y1="1444.6" x2="1484" y2="1444.6" stroke="#000" stroke-width="5.5"/>
<line x1="910" y1="1074.1999999999998" x2="925.2" y2="1074.1999999999998" stroke="#000" stroke-width="5"/>
<text x="905" y="1087.2" font-size="36" text-anchor="end" fill="#000" font-weight="bold" >0.20</text>
<line x1="910" y1="1166.8" x2="925.2" y2="1166.8" stroke="#000" stroke-width="5"/>
<text x="905" y="1179.8" font-size="36" text-anchor="end" fill="#000" font-weight="bold" >0.15</text>
<line x1="910" y1="1259.3999999999999" x2="925.2" y2="1259.3999999999999" stroke="#000" stroke-width="5"/>
<text x="905" y="1272.4" font-size="36" text-anchor="end" fill="#000" font-weight="bold" >0.10</text>
<line x1="910" y1="1352.0" x2="925.2" y2="1352.0" stroke="#000" stroke-width="5"/>
<text x="905" y="1365.0" font-size="36" text-anchor="end" fill="#000" font-weight="bold" >0.05</text>
<line x1="910" y1="1444.6" x2="925.2" y2="1444.6" stroke="#000" stroke-width="5"/>
<text x="905" y="1457.6" font-size="36" text-anchor="end" fill="#000" font-weight="bold" >0.00</text>
<line x1="925.2" y1="1444.6" x2="925.2" y2="1461.1999999999998" stroke="#000" stroke-width="5.6"/>
<text x="925.2" y="1498.5" font-size="36" text-anchor="middle" fill="#000" font-weight="bold" >0</text>
<line x1="1110.53" y1="1444.6" x2="1110.53" y2="1461.1999999999998" stroke="#000" stroke-width="5.6"/>
<text x="1110.53" y="1498.5" font-size="36" text-anchor="middle" fill="#000" font-weight="bold" >1</text>
<line x1="1295.8600000000001" y1="1444.6" x2="1295.8600000000001" y2="1461.1999999999998" stroke="#000" stroke-width="5.6"/>
<text x="1295.8600000000001" y="1498.5" font-size="36" text-anchor="middle" fill="#000" font-weight="bold" >2</text>
<line x1="1481.19" y1="1444.6" x2="1481.19" y2="1461.1999999999998" stroke="#000" stroke-width="5.6"/>
<text x="1481.19" y="1498.5" font-size="36" text-anchor="middle" fill="#000" font-weight="bold" >3</text>
<polyline points="926.0,1426.4 927.0,1426.4 928.0,1426.4 929.0,1426.4 930.0,1426.4 931.0,1426.4 932.0,1426.4 933.0,1426.4 934.0,1426.4 935.0,1426.4 936.0,1426.4 937.0,1426.4 938.0,1426.4 939.0,1426.4 940.0,1426.4 941.0,1426.4 942.0,1426.4 943.0,1426.4 944.0,1426.4 945.0,1426.4 946.0,1426.4 947.0,1426.4 948.0,1426.4 949.0,1426.4 950.0,1426.4 951.0,1426.4 952.0,1426.4 953.0,1408.3 954.0,1408.3 955.0,1408.3 956.0,1426.4 957.0,1426.4 958.0,1408.3 959.0,1408.3 960.0,1408.3 961.0,1408.3 962.0,1408.3 963.0,1408.3 964.0,1408.3 965.0,1408.3 966.0,1408.3 967.0,1408.3 968.0,1408.3 969.0,1408.3 970.0,1408.3 971.0,1408.3 972.0,1426.4 973.0,1408.3 974.0,1408.3 975.0,1408.3 976.0,1408.3 977.0,1408.3 978.0,1408.3 979.0,1408.3 980.0,1408.3 981.0,1408.3 982.0,1408.3 983.0,1408.3 984.0,1408.3 985.0,1408.3 986.0,1408.3 987.0,1408.3 988.0,1408.3 989.0,1408.3 990.0,1408.3 991.0,1408.3 992.0,1408.3 993.0,1408.3 994.0,1408.3 995.0,1408.3 996.0,1390.1 997.0,1408.3 998.0,1408.3 999.0,1408.3 1000.0,1408.3 1001.0,1408.3 1002.0,1408.3 1003.0,1408.3 1004.0,1408.3 1005.0,1408.3 1006.0,1408.3 1007.0,1408.3 1008.0,1390.1 1009.0,1390.1 1010.0,1390.1 1011.0,1390.1 1012.0,1408.3 1013.0,1390.1 1014.0,1390.1 1015.0,1390.1 1016.0,1408.3 1017.0,1408.3 1018.0,1390.1 1019.0,1408.3 1020.0,1408.3 1021.0,1390.1 1022.0,1408.3 1023.0,1390.1 1024.0,1390.1 1025.0,1408.3 1026.0,1390.1 1027.0,1390.1 1028.0,1390.1 1029.0,1390.1 1030.0,1408.3 1031.0,1408.3 1032.0,1390.1 1033.0,1390.1 1034.0,1408.3 1035.0,1390.1 1036.0,1390.1 1037.0,1408.3 1038.0,1408.3 1039.0,1390.1 1040.0,1390.1 1041.0,1390.1 1042.0,1390.1 1043.0,1390.1 1044.0,1390.1 1045.0,1390.1 1046.0,1390.1 1047.0,1390.1 1048.0,1390.1 1049.0,1390.1 1050.0,1390.1 1051.0,1390.1 1052.0,1390.1 1053.0,1390.1 1054.0,1390.1 1055.0,1390.1 1056.0,1390.1 1057.0,1390.1 1058.0,1390.1 1059.0,1390.1 1060.0,1371.9 1061.0,1390.1 1062.0,1390.1 1063.0,1390.1 1064.0,1390.1 1065.0,1371.9 1066.0,1390.1 1067.0,1390.1 1068.0,1371.9 1069.0,1390.1 1070.0,1390.1 1071.0,1371.9 1072.0,1371.9 1073.0,1371.9 1074.0,1390.1 1075.0,1371.9 1076.0,1371.9 1077.0,1390.1 1078.0,1371.9 1079.0,1371.9 1080.0,1390.1 1081.0,1371.9 1082.0,1371.9 1083.0,1371.9 1084.0,1390.1 1085.0,1371.9 1086.0,1371.9 1087.0,1371.9 1088.0,1371.9 1089.0,1371.9 1090.0,1371.9 1091.0,1371.9 1092.0,1371.9 1093.0,1371.9 1094.0,1371.9 1095.0,1353.8 1096.0,1353.8 1097.0,1371.9 1098.0,1353.8 1099.0,1371.9 1100.0,1353.8 1101.0,1371.9 1102.0,1353.8 1103.0,1353.8 1104.0,1371.9 1105.0,1353.8 1106.0,1353.8 1107.0,1353.8 1108.0,1371.9 1109.0,1353.8 1110.0,1353.8 1111.0,1371.9 1112.0,1353.8 1113.0,1371.9 1114.0,1353.8 1115.0,1371.9 1116.0,1353.8 1117.0,1353.8 1118.0,1353.8 1119.0,1353.8 1120.0,1371.9 1121.0,1371.9 1122.0,1353.8 1123.0,1371.9 1124.0,1371.9 1125.0,1371.9 1126.0,1353.8 1127.0,1353.8 1128.0,1353.8 1129.0,1371.9 1130.0,1353.8 1131.0,1371.9 1132.0,1353.8 1133.0,1353.8 1134.0,1371.9 1135.0,1353.8 1136.0,1353.8 1137.0,1353.8 1138.0,1371.9 1139.0,1353.8 1140.0,1353.8 1141.0,1353.8 1142.0,1335.6 1143.0,1335.6 1144.0,1335.6 1145.0,1353.8 1146.0,1335.6 1147.0,1335.6 1148.0,1335.6 1149.0,1353.8 1150.0,1353.8 1151.0,1335.6 1152.0,1335.6 1153.0,1335.6 1154.0,1335.6 1155.0,1353.8 1156.0,1353.8 1157.0,1353.8 1158.0,1353.8 1159.0,1335.6 1160.0,1335.6 1161.0,1353.8 1162.0,1335.6 1163.0,1335.6 1164.0,1335.6 1165.0,1335.6 1166.0,1335.6 1167.0,1335.6 1168.0,1335.6 1169.0,1335.6 1170.0,1353.8 1171.0,1335.6 1172.0,1353.8 1173.0,1353.8 1174.0,1353.8 1175.0,1335.6 1176.0,1353.8 1177.0,1335.6 1178.0,1335.6 1179.0,1335.6 1180.0,1335.6 1181.0,1335.6 1182.0,1317.4 1183.0,1335.6 1184.0,1335.6 1185.0,1317.4 1186.0,1335.6 1187.0,1335.6 1188.0,1335.6 1189.0,1317.4 1190.0,1335.6 1191.0,1335.6 1192.0,1317.4 1193.0,1317.4 1194.0,1335.6 1195.0,1317.4 1196.0,1317.4 1197.0,1335.6 1198.0,1335.6 1199.0,1335.6 1200.0,1317.4 1201.0,1335.6 1202.0,1335.6 1203.0,1335.6 1204.0,1335.6 1205.0,1317.4 1206.0,1335.6 1207.0,1317.4 1208.0,1335.6 1209.0,1317.4 1210.0,1317.4 1211.0,1335.6 1212.0,1317.4 1213.0,1317.4 1214.0,1335.6 1215.0,1317.4 1216.0,1317.4 1217.0,1317.4 1218.0,1317.4 1219.0,1317.4 1220.0,1317.4 1221.0,1317.4 1222.0,1317.4 1223.0,1317.4 1224.0,1317.4 1225.0,1317.4 1226.0,1317.4 1227.0,1299.2 1228.0,1317.4 1229.0,1317.4 1230.0,1299.2 1231.0,1317.4 1232.0,1317.4 1233.0,1299.2 1234.0,1317.4 1235.0,1317.4 1236.0,1299.2 1237.0,1317.4 1238.0,1299.2 1239.0,1299.2 1240.0,1317.4 1241.0,1317.4 1242.0,1317.4 1243.0,1299.2 1244.0,1317.4 1245.0,1317.4 1246.0,1317.4 1247.0,1317.4 1248.0,1299.2 1249.0,1299.2 1250.0,1317.4 1251.0,1317.4 1252.0,1299.2 1253.0,1299.2 1254.0,1299.2 1255.0,1317.4 1256.0,1299.2 1257.0,1299.2 1258.0,1299.2 1259.0,1299.2 1260.0,1299.2 1261.0,1299.2 1262.0,1317.4 1263.0,1299.2 1264.0,1299.2 1265.0,1317.4 1266.0,1299.2 1267.0,1299.2 1268.0,1299.2 1269.0,1299.2 1270.0,1299.2 1271.0,1299.2 1272.0,1299.2 1273.0,1299.2 1274.0,1281.1 1275.0,1281.1 1276.0,1299.2 1277.0,1299.2 1278.0,1281.1 1279.0,1281.1 1280.0,1281.1 1281.0,1281.1 1282.0,1299.2 1283.0,1281.1 1284.0,1299.2 1285.0,1299.2 1286.0,1299.2 1287.0,1281.1 1288.0,1299.2 1289.0,1299.2 1290.0,1281.1 1291.0,1281.1 1292.0,1281.1 1293.0,1281.1 1294.0,1299.2 1295.0,1281.1 1296.0,1281.1 1297.0,1299.2 1298.0,1299.2 1299.0,1281.1 1300.0,1281.1 1301.0,1281.1 1302.0,1281.1 1303.0,1281.1 1304.0,1281.1 1305.0,1281.1 1306.0,1281.1 1307.0,1281.1 1308.0,1281.1 1309.0,1281.1 1310.0,1281.1 1311.0,1281.1 1312.0,1281.1 1313.0,1281.1 1314.0,1281.1 1315.0,1281.1 1316.0,1281.1 1317.0,1281.1 1318.0,1281.1 1319.0,1262.9 1320.0,1281.1 1321.0,1281.1 1322.0,1281.1 1323.0,1262.9 1324.0,1262.9 1325.0,1281.1 1326.0,1262.9 1327.0,1262.9 1328.0,1281.1 1329.0,1262.9 1330.0,1262.9 1331.0,1262.9 1332.0,1262.9 1333.0,1281.1 1334.0,1281.1 1335.0,1262.9 1336.0,1281.1 1337.0,1262.9 1338.0,1262.9 1339.0,1262.9 1340.0,1281.1 1341.0,1262.9 1342.0,1262.9 1343.0,1262.9 1344.0,1262.9 1345.0,1262.9 1346.0,1262.9 1347.0,1262.9 1348.0,1262.9 1349.0,1262.9 1350.0,1262.9 1351.0,1262.9 1352.0,1262.9 1353.0,1262.9 1354.0,1262.9 1355.0,1262.9 1356.0,1262.9 1357.0,1262.9 1358.0,1262.9 1359.0,1262.9 1360.0,1262.9 1361.0,1262.9 1362.0,1262.9 1363.0,1262.9 1364.0,1262.9 1365.0,1262.9 1366.0,1262.9 1367.0,1262.9 1368.0,1262.9 1369.0,1244.7 1370.0,1244.7 1371.0,1262.9 1372.0,1262.9 1373.0,1262.9 1374.0,1244.7 1375.0,1244.7 1376.0,1244.7 1377.0,1262.9 1378.0,1262.9 1379.0,1262.9 1380.0,1244.7 1381.0,1244.7 1382.0,1262.9 1383.0,1262.9 1384.0,1244.7 1385.0,1262.9 1386.0,1262.9 1387.0,1262.9 1388.0,1262.9 1389.0,1262.9 1390.0,1244.7 1391.0,1244.7 1392.0,1244.7 1393.0,1244.7 1394.0,1244.7 1395.0,1244.7 1396.0,1262.9 1397.0,1262.9 1398.0,1262.9 1399.0,1262.9 1400.0,1244.7 1401.0,1244.7 1402.0,1244.7 1403.0,1262.9 1404.0,1262.9 1405.0,1244.7 1406.0,1244.7 1407.0,1244.7 1408.0,1244.7 1409.0,1244.7 1410.0,1244.7 1411.0,1244.7 1412.0,1244.7 1413.0,1244.7 1414.0,1244.7 1415.0,1244.7 1416.0,1244.7 1417.0,1244.7 1418.0,1244.7 1419.0,1226.6 1420.0,1244.7 1421.0,1244.7 1422.0,1244.7 1423.0,1244.7 1424.0,1226.6 1425.0,1226.6 1426.0,1244.7 1427.0,1244.7 1428.0,1244.7 1429.0,1244.7 1430.0,1226.6 1431.0,1226.6 1432.0,1244.7 1433.0,1244.7 1434.0,1244.7 1435.0,1244.7 1436.0,1244.7 1437.0,1244.7 1438.0,1244.7 1439.0,1226.6 1440.0,1226.6 1441.0,1244.7 1442.0,1226.6 1443.0,1244.7 1444.0,1226.6 1445.0,1226.6 1446.0,1226.6 1447.0,1244.7 1448.0,1244.7 1449.0,1226.6 1450.0,1226.6 1451.0,1226.6 1452.0,1226.6 1453.0,1226.6 1454.0,1226.6 1455.0,1226.6 1456.0,1226.6 1457.0,1244.7 1458.0,1226.6 1459.0,1244.7 1460.0,1226.6 1461.0,1244.7 1462.0,1226.6 1463.0,1226.6 1464.0,1244.7 1465.0,1226.6 1466.0,1226.6 1467.0,1226.6 1468.0,1244.7 1469.0,1226.6 1470.0,1226.6 1471.0,1226.6 1472.0,1244.7 1473.0,1226.6 1474.0,1226.6 1475.0,1226.6 1476.0,1226.6 1477.0,1244.7 1478.0,1226.6 1479.0,1244.7 1480.0,1226.6 1481.0,1244.7 1482.0,1244.7" fill="none" stroke="#0C97B4" stroke-width="3.9" stroke-linejoin="round" stroke-linecap="round" stroke-linejoin="miter"/>
<polyline points="926.0,1444.6 927.0,1426.4 928.0,1426.4 929.0,1444.6 930.0,1444.6 931.0,1444.6 932.0,1426.4 933.0,1426.4 934.0,1444.6 935.0,1444.6 936.0,1426.4 937.0,1426.4 938.0,1426.4 939.0,1426.4 940.0,1444.6 941.0,1444.6 942.0,1426.4 943.0,1444.6 944.0,1444.6 945.0,1444.6 946.0,1426.4 947.0,1426.4 948.0,1444.6 949.0,1444.6 950.0,1426.4 951.0,1426.4 952.0,1426.4 953.0,1426.4 954.0,1444.6 955.0,1426.4 956.0,1444.6 957.0,1444.6 958.0,1444.6 959.0,1426.4 960.0,1444.6 961.0,1426.4 962.0,1408.3 963.0,1426.4 964.0,1426.4 965.0,1426.4 966.0,1426.4 967.0,1426.4 968.0,1426.4 969.0,1426.4 970.0,1426.4 971.0,1426.4 972.0,1426.4 973.0,1426.4 974.0,1426.4 975.0,1426.4 976.0,1426.4 977.0,1426.4 978.0,1426.4 979.0,1426.4 980.0,1426.4 981.0,1426.4 982.0,1426.4 983.0,1426.4 984.0,1426.4 985.0,1426.4 986.0,1426.4 987.0,1408.3 988.0,1408.3 989.0,1426.4 990.0,1408.3 991.0,1408.3 992.0,1408.3 993.0,1408.3 994.0,1408.3 995.0,1426.4 996.0,1426.4 997.0,1426.4 998.0,1408.3 999.0,1408.3 1000.0,1408.3 1001.0,1408.3 1002.0,1408.3 1003.0,1408.3 1004.0,1408.3 1005.0,1408.3 1006.0,1408.3 1007.0,1426.4 1008.0,1426.4 1009.0,1408.3 1010.0,1408.3 1011.0,1408.3 1012.0,1408.3 1013.0,1426.4 1014.0,1408.3 1015.0,1408.3 1016.0,1408.3 1017.0,1408.3 1018.0,1408.3 1019.0,1426.4 1020.0,1426.4 1021.0,1408.3 1022.0,1408.3 1023.0,1408.3 1024.0,1408.3 1025.0,1408.3 1026.0,1426.4 1027.0,1408.3 1028.0,1408.3 1029.0,1408.3 1030.0,1426.4 1031.0,1408.3 1032.0,1408.3 1033.0,1408.3 1034.0,1408.3 1035.0,1408.3 1036.0,1408.3 1037.0,1408.3 1038.0,1408.3 1039.0,1426.4 1040.0,1408.3 1041.0,1390.1 1042.0,1408.3 1043.0,1408.3 1044.0,1408.3 1045.0,1408.3 1046.0,1390.1 1047.0,1408.3 1048.0,1408.3 1049.0,1408.3 1050.0,1408.3 1051.0,1408.3 1052.0,1408.3 1053.0,1408.3 1054.0,1408.3 1055.0,1408.3 1056.0,1408.3 1057.0,1408.3 1058.0,1408.3 1059.0,1408.3 1060.0,1408.3 1061.0,1408.3 1062.0,1408.3 1063.0,1408.3 1064.0,1408.3 1065.0,1408.3 1066.0,1408.3 1067.0,1408.3 1068.0,1408.3 1069.0,1408.3 1070.0,1408.3 1071.0,1408.3 1072.0,1408.3 1073.0,1408.3 1074.0,1408.3 1075.0,1408.3 1076.0,1408.3 1077.0,1408.3 1078.0,1408.3 1079.0,1408.3 1080.0,1390.1 1081.0,1408.3 1082.0,1408.3 1083.0,1408.3 1084.0,1390.1 1085.0,1390.1 1086.0,1408.3 1087.0,1390.1 1088.0,1408.3 1089.0,1390.1 1090.0,1390.1 1091.0,1390.1 1092.0,1408.3 1093.0,1408.3 1094.0,1408.3 1095.0,1408.3 1096.0,1390.1 1097.0,1408.3 1098.0,1408.3 1099.0,1390.1 1100.0,1390.1 1101.0,1408.3 1102.0,1408.3 1103.0,1390.1 1104.0,1390.1 1105.0,1408.3 1106.0,1408.3 1107.0,1408.3 1108.0,1408.3 1109.0,1408.3 1110.0,1390.1 1111.0,1390.1 1112.0,1390.1 1113.0,1408.3 1114.0,1408.3 1115.0,1408.3 1116.0,1408.3 1117.0,1408.3 1118.0,1408.3 1119.0,1390.1 1120.0,1390.1 1121.0,1390.1 1122.0,1390.1 1123.0,1390.1 1124.0,1390.1 1125.0,1390.1 1126.0,1390.1 1127.0,1390.1 1128.0,1390.1 1129.0,1390.1 1130.0,1390.1 1131.0,1390.1 1132.0,1390.1 1133.0,1390.1 1134.0,1390.1 1135.0,1390.1 1136.0,1390.1 1137.0,1390.1 1138.0,1390.1 1139.0,1390.1 1140.0,1390.1 1141.0,1390.1 1142.0,1390.1 1143.0,1390.1 1144.0,1390.1 1145.0,1390.1 1146.0,1371.9 1147.0,1390.1 1148.0,1390.1 1149.0,1390.1 1150.0,1371.9 1151.0,1371.9 1152.0,1371.9 1153.0,1390.1 1154.0,1390.1 1155.0,1390.1 1156.0,1390.1 1157.0,1371.9 1158.0,1390.1 1159.0,1371.9 1160.0,1371.9 1161.0,1371.9 1162.0,1390.1 1163.0,1390.1 1164.0,1390.1 1165.0,1371.9 1166.0,1371.9 1167.0,1390.1 1168.0,1371.9 1169.0,1371.9 1170.0,1371.9 1171.0,1390.1 1172.0,1390.1 1173.0,1390.1 1174.0,1390.1 1175.0,1371.9 1176.0,1371.9 1177.0,1371.9 1178.0,1371.9 1179.0,1371.9 1180.0,1371.9 1181.0,1371.9 1182.0,1371.9 1183.0,1371.9 1184.0,1371.9 1185.0,1371.9 1186.0,1371.9 1187.0,1371.9 1188.0,1371.9 1189.0,1371.9 1190.0,1371.9 1191.0,1371.9 1192.0,1371.9 1193.0,1353.8 1194.0,1353.8 1195.0,1353.8 1196.0,1371.9 1197.0,1371.9 1198.0,1371.9 1199.0,1353.8 1200.0,1371.9 1201.0,1371.9 1202.0,1371.9 1203.0,1371.9 1204.0,1371.9 1205.0,1353.8 1206.0,1353.8 1207.0,1371.9 1208.0,1353.8 1209.0,1371.9 1210.0,1353.8 1211.0,1353.8 1212.0,1371.9 1213.0,1371.9 1214.0,1371.9 1215.0,1353.8 1216.0,1353.8 1217.0,1371.9 1218.0,1353.8 1219.0,1371.9 1220.0,1371.9 1221.0,1371.9 1222.0,1371.9 1223.0,1371.9 1224.0,1371.9 1225.0,1371.9 1226.0,1353.8 1227.0,1353.8 1228.0,1353.8 1229.0,1371.9 1230.0,1371.9 1231.0,1371.9 1232.0,1371.9 1233.0,1353.8 1234.0,1353.8 1235.0,1371.9 1236.0,1353.8 1237.0,1353.8 1238.0,1371.9 1239.0,1353.8 1240.0,1353.8 1241.0,1353.8 1242.0,1353.8 1243.0,1353.8 1244.0,1353.8 1245.0,1353.8 1246.0,1353.8 1247.0,1335.6 1248.0,1353.8 1249.0,1353.8 1250.0,1353.8 1251.0,1353.8 1252.0,1335.6 1253.0,1353.8 1254.0,1335.6 1255.0,1353.8 1256.0,1335.6 1257.0,1353.8 1258.0,1353.8 1259.0,1335.6 1260.0,1353.8 1261.0,1335.6 1262.0,1353.8 1263.0,1353.8 1264.0,1335.6 1265.0,1353.8 1266.0,1353.8 1267.0,1335.6 1268.0,1335.6 1269.0,1353.8 1270.0,1335.6 1271.0,1335.6 1272.0,1335.6 1273.0,1353.8 1274.0,1353.8 1275.0,1353.8 1276.0,1353.8 1277.0,1353.8 1278.0,1353.8 1279.0,1353.8 1280.0,1335.6 1281.0,1353.8 1282.0,1353.8 1283.0,1335.6 1284.0,1353.8 1285.0,1353.8 1286.0,1353.8 1287.0,1353.8 1288.0,1353.8 1289.0,1353.8 1290.0,1335.6 1291.0,1353.8 1292.0,1353.8 1293.0,1335.6 1294.0,1335.6 1295.0,1335.6 1296.0,1335.6 1297.0,1353.8 1298.0,1353.8 1299.0,1335.6 1300.0,1335.6 1301.0,1335.6 1302.0,1335.6 1303.0,1335.6 1304.0,1335.6 1305.0,1335.6 1306.0,1335.6 1307.0,1335.6 1308.0,1335.6 1309.0,1335.6 1310.0,1335.6 1311.0,1335.6 1312.0,1317.4 1313.0,1317.4 1314.0,1317.4 1315.0,1317.4 1316.0,1335.6 1317.0,1317.4 1318.0,1335.6 1319.0,1335.6 1320.0,1335.6 1321.0,1317.4 1322.0,1335.6 1323.0,1335.6 1324.0,1317.4 1325.0,1317.4 1326.0,1335.6 1327.0,1335.6 1328.0,1317.4 1329.0,1335.6 1330.0,1317.4 1331.0,1335.6 1332.0,1335.6 1333.0,1335.6 1334.0,1317.4 1335.0,1335.6 1336.0,1335.6 1337.0,1317.4 1338.0,1317.4 1339.0,1317.4 1340.0,1317.4 1341.0,1335.6 1342.0,1317.4 1343.0,1317.4 1344.0,1317.4 1345.0,1317.4 1346.0,1317.4 1347.0,1335.6 1348.0,1317.4 1349.0,1335.6 1350.0,1335.6 1351.0,1317.4 1352.0,1317.4 1353.0,1317.4 1354.0,1335.6 1355.0,1335.6 1356.0,1317.4 1357.0,1317.4 1358.0,1335.6 1359.0,1317.4 1360.0,1335.6 1361.0,1317.4 1362.0,1317.4 1363.0,1317.4 1364.0,1317.4 1365.0,1317.4 1366.0,1335.6 1367.0,1317.4 1368.0,1317.4 1369.0,1317.4 1370.0,1317.4 1371.0,1317.4 1372.0,1317.4 1373.0,1335.6 1374.0,1317.4 1375.0,1317.4 1376.0,1317.4 1377.0,1317.4 1378.0,1335.6 1379.0,1317.4 1380.0,1317.4 1381.0,1317.4 1382.0,1317.4 1383.0,1317.4 1384.0,1317.4 1385.0,1317.4 1386.0,1317.4 1387.0,1335.6 1388.0,1317.4 1389.0,1317.4 1390.0,1317.4 1391.0,1317.4 1392.0,1317.4 1393.0,1317.4 1394.0,1317.4 1395.0,1317.4 1396.0,1317.4 1397.0,1317.4 1398.0,1317.4 1399.0,1335.6 1400.0,1317.4 1401.0,1317.4 1402.0,1317.4 1403.0,1317.4 1404.0,1317.4 1405.0,1317.4 1406.0,1317.4 1407.0,1299.2 1408.0,1317.4 1409.0,1317.4 1410.0,1317.4 1411.0,1317.4 1412.0,1317.4 1413.0,1317.4 1414.0,1317.4 1415.0,1317.4 1416.0,1317.4 1417.0,1317.4 1418.0,1317.4 1419.0,1317.4 1420.0,1317.4 1421.0,1317.4 1422.0,1317.4 1423.0,1317.4 1424.0,1317.4 1425.0,1317.4 1426.0,1299.2 1427.0,1299.2 1428.0,1317.4 1429.0,1317.4 1430.0,1317.4 1431.0,1317.4 1432.0,1317.4 1433.0,1317.4 1434.0,1299.2 1435.0,1299.2 1436.0,1317.4 1437.0,1317.4 1438.0,1299.2 1439.0,1299.2 1440.0,1317.4 1441.0,1317.4 1442.0,1299.2 1443.0,1299.2 1444.0,1299.2 1445.0,1299.2 1446.0,1317.4 1447.0,1299.2 1448.0,1299.2 1449.0,1299.2 1450.0,1317.4 1451.0,1317.4 1452.0,1299.2 1453.0,1317.4 1454.0,1299.2 1455.0,1299.2 1456.0,1299.2 1457.0,1299.2 1458.0,1299.2 1459.0,1299.2 1460.0,1281.1 1462.0,1299.2 1481.0,1299.2" fill="none" stroke="#FF8000" stroke-width="3.9" stroke-linejoin="round" stroke-linecap="round" stroke-linejoin="miter"/>
<line x1="952" y1="1094.8" x2="991.7" y2="1094.8" stroke="#FF8000" stroke-width="3.8"/>
<line x1="952" y1="1124.4" x2="991.7" y2="1124.4" stroke="#0C97B4" stroke-width="3.8"/>
<text x="1013.6" y="1103.4" font-size="26.2" text-anchor="start" fill="#000" font-weight="bold" >B-SEMS</text>
<text x="1013.6" y="1132.5" font-size="26.2" text-anchor="start" fill="#000" font-weight="bold" >C-SEMS</text>
<text x="1204.4" y="1550.6" font-size="35.6" text-anchor="middle" fill="#000" font-weight="bold" >Displacement (mm)</text>
<text x="814.6" y="1253.3" font-size="35.3" text-anchor="middle" fill="#000" font-weight="bold" transform="rotate(-90 814.6 1253.3)">Force (N/mm)</text>
</svg>
</body></html>
